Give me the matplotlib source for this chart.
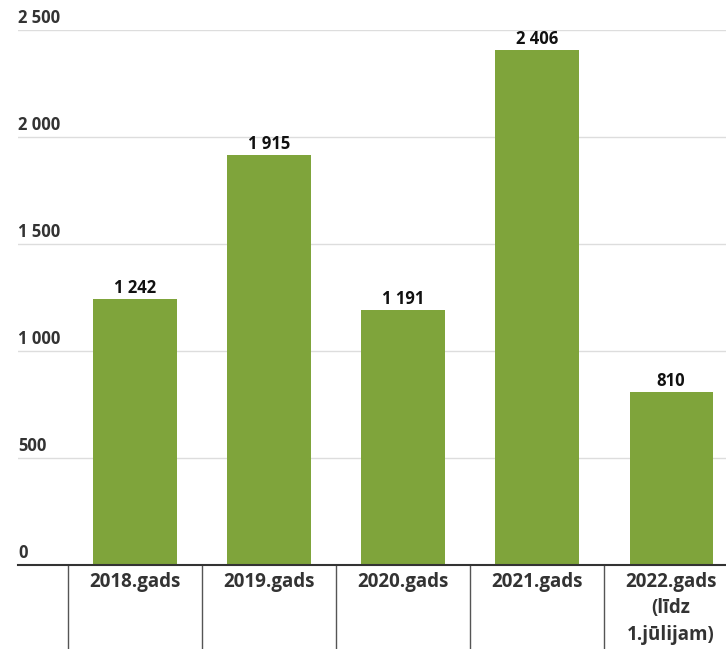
import matplotlib.pyplot as plt
import matplotlib.transforms as mtransforms

years = ["2018.gads", "2019.gads", "2020.gads", "2021.gads", "2022.gads\n(līdz\n1.jūlijam)"]
counts = [1242, 1915, 1191, 2406, 810]
value_labels = ["1 242", "1 915", "1 191", "2 406", "810"]
y_ticks = [0, 500, 1000, 1500, 2000, 2500]
y_tick_labels = ["0", "500", "1 000", "1 500", "2 000", "2 500"]

BAR_COLOR = "#7fa43b"
TEXT_COLOR = "#333333"

plt.rcParams["font.family"] = ["Open Sans", "DejaVu Sans"]

fig = plt.figure(figsize=(7.26, 6.49), dpi=100)
ax = fig.add_axes([18 / 726, 84 / 649, 708 / 726, 535 / 649])

x = list(range(len(years)))
ax.bar(x, counts, width=0.62, color=BAR_COLOR, zorder=3)

for xi, v, lab in zip(x, counts, value_labels):
    ax.annotate(lab, (xi, v), xytext=(0, 4.3), textcoords="offset points",
                ha="center", va="baseline", fontsize=12, fontweight="bold",
                color="#111111", zorder=4)

ax.set_xlim(-0.873, 4.41)
ax.set_ylim(0, 2500)

# gridlines with labels sitting above them
for t, lab in zip(y_ticks, y_tick_labels):
    if t > 0:
        ax.axhline(t, color="#dddddd", linewidth=1, zorder=1)
    ax.annotate(lab, (0, t), xycoords=("axes fraction", "data"),
                xytext=(0, 5), textcoords="offset points",
                ha="left", va="baseline", fontsize=12, fontweight="bold",
                color=TEXT_COLOR)

ax.axhline(0, color="#333333", linewidth=1.5, zorder=5, clip_on=False)

# category labels and separators below the baseline
trans = mtransforms.blended_transform_factory(ax.transData, ax.transAxes)
for xi, name in zip(x, years):
    ax.text(xi, -0.013, name, transform=trans, ha="center", va="top",
            fontsize=13.5, fontweight="bold", color=TEXT_COLOR,
            linespacing=1.42)
for sep in [i - 0.5 for i in x]:
    ax.plot([sep, sep], [0, -0.16], transform=trans, color="#555555",
            linewidth=1, clip_on=False)

ax.set_xticks([])
ax.set_yticks([])
for side in ax.spines.values():
    side.set_visible(False)

fig.savefig("out.png", dpi=100)
